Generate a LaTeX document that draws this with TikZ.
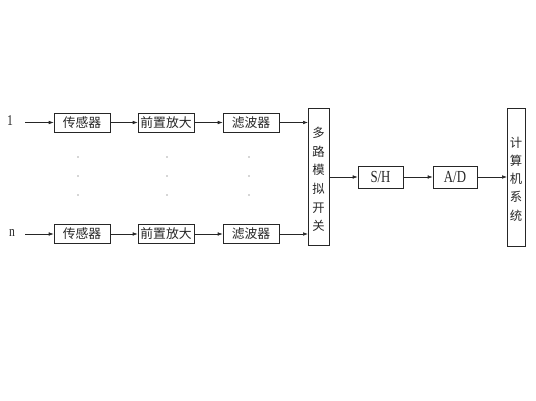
\documentclass[tikz,border=0pt]{standalone}
\usepackage{fontspec}
\setmainfont{Liberation Serif}
\newfontfamily\cjk{Noto Sans CJK SC}[Scale=0.95]
\usetikzlibrary{arrows.meta}
\begin{document}
\begin{tikzpicture}[x=1pt,y=-1pt,
  blk/.style={draw=black!85,text=black!85,line width=0.6pt,minimum width=56pt,minimum height=19pt,inner sep=0pt,font=\cjk\fontsize{13.5}{15}\selectfont},
  tall/.style={draw=black!85,line width=0.6pt,inner sep=0pt,anchor=north west},
  arr/.style={draw=black!85,line width=0.6pt,-{Latex[length=5pt,width=3.6pt]}},
  lbl/.style={font=\fontsize{13}{15}\selectfont,inner sep=0pt,text=black!85},
  vtxt/.style={align=center,inner sep=0pt,text=black!85},
  dot/.style={circle,fill=black!70,inner sep=0pt,minimum size=1.3pt}]
\useasboundingbox (0,0) rectangle (536,401);
% row 1
\node[lbl] (l1) at (10,121) {\scalebox{0.9}[1.15]{1}};
\node[blk] (s1) at (82,122.5) {传感器};
\node[blk] (a1) at (166,122.5) {前置放大};
\node[blk] (f1) at (251,122.5) {滤波器};
% row n
\node[lbl] (ln) at (12,233) {\scalebox{0.9}[1.15]{n}};
\node[blk] (sn) at (82,234) {传感器};
\node[blk] (an) at (166,234) {前置放大};
\node[blk] (fn) at (251,234) {滤波器};
% mux
\node[tall,minimum width=21pt,minimum height=137pt] (mux) at (308,108) {};
\node[vtxt,font=\cjk\fontsize{13}{18.6}\selectfont] (muxt) at (318.5,179.5) {多\\路\\模\\拟\\开\\关};
% S/H, A/D
\node[blk,minimum width=45pt,minimum height=22pt,font=\fontsize{13.5}{15}\selectfont] (sh) at (380.5,177) {\scalebox{0.95}[1.25]{S/H}};
\node[blk,minimum width=44pt,minimum height=22pt,font=\fontsize{13.5}{15}\selectfont] (ad) at (455,177) {\scalebox{0.95}[1.25]{A/D}};
% computer
\node[tall,minimum width=18pt,minimum height=138pt] (pc) at (507,108) {};
\node[vtxt,font=\cjk\fontsize{13}{18.3}\selectfont] (pct) at (516,179) {计\\算\\机\\系\\统};
% arrows
\coordinate (i1) at (25,122.5);
\coordinate (in) at (25,234);
\draw[arr] (i1) -- (s1.west);
\draw[arr] (s1) -- (a1);
\draw[arr] (a1) -- (f1);
\draw[arr] (f1.east) -- (f1.east -| mux.west);
\draw[arr] (in) -- (sn.west);
\draw[arr] (sn) -- (an);
\draw[arr] (an) -- (fn);
\draw[arr] (fn.east) -- (fn.east -| mux.west);
\draw[arr] (mux.east |- sh.west) -- (sh.west);
\draw[arr] (sh) -- (ad);
\draw[arr] (ad.east) -- (ad.east -| pc.west);
% dots
\foreach \x in {78,167,249}
  \foreach \y in {157,176,195}
    \node[dot] at (\x,\y) {};
\end{tikzpicture}
\end{document}
